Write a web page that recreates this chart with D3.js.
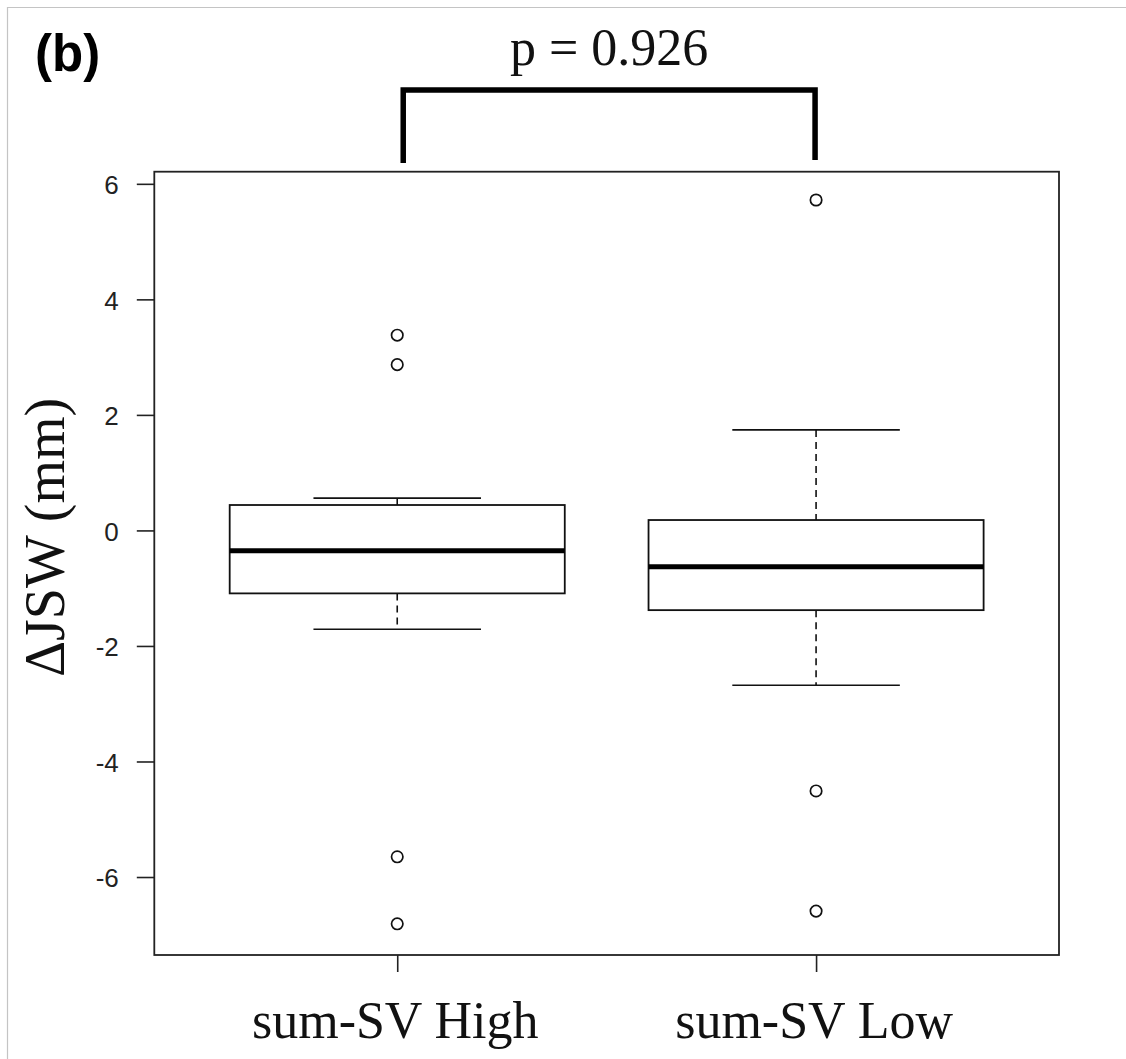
<!DOCTYPE html>
<html>
<head>
<meta charset="utf-8">
<script src="https://cdn.jsdelivr.net/npm/d3@7"></script>
<style>
  body { margin: 0; background: #fff; }
</style>
</head>
<body>
<div id="canvas"></div>
<script>
"use strict";

/* Data: box statistics */
let groups = ["sum-SV High", "sum-SV Low"];
let lowerWhisker = [-1.71, -2.68];
let q1 = [-1.09, -1.38];
let median = [-0.35, -0.63];
let q3 = [0.44, 0.18];
let upperWhisker = [0.56, 1.74];
let outliers = [
  [3.38, 2.87, -5.65, -6.81],
  [5.72, -4.51, -6.59]
];
let yTicks = [-6, -4, -2, 0, 2, 4, 6];
let pLabel = "p = 0.926";

/* Drawing config */
let svgWidth = 1126;
let svgHeight = 1059;
let plotLeft = 154.3, plotRight = 1059, plotTop = 171.7, plotBottom = 955;

let svg = d3.select("#canvas")
  .append("svg")
  .attr("width", svgWidth)
  .attr("height", svgHeight);

// light grey outer frame (only top and left visible)
svg.append("path")
  .attr("d", `M7.5,${svgHeight} V7.5 H${svgWidth}`)
  .attr("fill", "none")
  .attr("stroke", "#c4c4c4")
  .attr("stroke-width", 1.2);

/* Scales */
let xScale = d3.scaleLinear()
  .domain([0.42, 2.58])
  .range([plotLeft, plotRight]);

let yScale = d3.scaleLinear()
  .domain([-7.35, 6.21])
  .range([plotBottom, plotTop]);

let boxHalf = 0.4, capHalf = 0.2;

let boxData = groups.map((g, i) => ({
  name: g, pos: i + 1,
  lo: lowerWhisker[i], q1: q1[i], med: median[i], q3: q3[i], hi: upperWhisker[i],
  out: outliers[i]
}));

/* Axes */
let yAxis = d3.axisLeft(yScale)
  .tickValues(yTicks)
  .tickSize(17.5)
  .tickPadding(18)
  .tickFormat(d => String(d)); // plain hyphen minus like R

let gy = svg.append("g")
  .attr("transform", `translate(${plotLeft},0)`)
  .call(yAxis);
gy.select(".domain").remove();
gy.selectAll(".tick line").attr("stroke", "#222").attr("stroke-width", 1.6);
gy.selectAll(".tick text")
  .attr("fill", "#222")
  .attr("font-family", "Liberation Sans, Arial, sans-serif")
  .attr("font-size", 26)
  .attr("dy", "0.38em");

let xAxis = d3.axisBottom(xScale)
  .tickValues([1, 2])
  .tickSize(17)
  .tickFormat("");

let gx = svg.append("g")
  .attr("transform", `translate(0,${plotBottom})`)
  .call(xAxis);
gx.select(".domain").remove();
gx.selectAll(".tick line").attr("stroke", "#222").attr("stroke-width", 1.6);

svg.selectAll(".xlabel")
  .data(boxData)
  .join("text")
  .attr("class", "xlabel")
  .attr("x", d => xScale(d.pos) - 2)
  .attr("y", 1038)
  .attr("text-anchor", "middle")
  .attr("font-family", "Liberation Serif, Times New Roman, serif")
  .attr("font-size", 52)
  .attr("fill", "#111")
  .text(d => d.name);

/* Boxes */
let box = svg.selectAll(".box")
  .data(boxData)
  .join("g")
  .attr("class", "box");

// whiskers (dashed)
box.append("line")
  .attr("x1", d => xScale(d.pos)).attr("x2", d => xScale(d.pos))
  .attr("y1", d => yScale(d.hi)).attr("y2", d => yScale(d.q3))
  .attr("stroke", "#111").attr("stroke-width", 1.6)
  .attr("stroke-dasharray", "7,5");
box.append("line")
  .attr("x1", d => xScale(d.pos)).attr("x2", d => xScale(d.pos))
  .attr("y1", d => yScale(d.q1)).attr("y2", d => yScale(d.lo))
  .attr("stroke", "#111").attr("stroke-width", 1.6)
  .attr("stroke-dasharray", "7,5");

// staples
["hi", "lo"].forEach(k => {
  box.append("line")
    .attr("x1", d => xScale(d.pos - capHalf)).attr("x2", d => xScale(d.pos + capHalf))
    .attr("y1", d => yScale(d[k])).attr("y2", d => yScale(d[k]))
    .attr("stroke", "#111").attr("stroke-width", 1.6);
});

box.append("rect")
  .attr("x", d => xScale(d.pos - boxHalf))
  .attr("width", d => xScale(d.pos + boxHalf) - xScale(d.pos - boxHalf))
  .attr("y", d => yScale(d.q3))
  .attr("height", d => yScale(d.q1) - yScale(d.q3))
  .attr("fill", "none")
  .attr("stroke", "#111")
  .attr("stroke-width", 1.8);

box.append("line")
  .attr("x1", d => xScale(d.pos - boxHalf)).attr("x2", d => xScale(d.pos + boxHalf))
  .attr("y1", d => yScale(d.med)).attr("y2", d => yScale(d.med))
  .attr("stroke", "#000").attr("stroke-width", 5);

// outlier points
box.selectAll("circle")
  .data(d => d.out.map(v => ({ pos: d.pos, v: v })))
  .join("circle")
  .attr("cx", d => xScale(d.pos))
  .attr("cy", d => yScale(d.v))
  .attr("r", 5.7)
  .attr("fill", "none")
  .attr("stroke", "#111")
  .attr("stroke-width", 1.7);

/* Plot frame */
svg.append("rect")
  .attr("x", plotLeft)
  .attr("y", plotTop)
  .attr("width", plotRight - plotLeft)
  .attr("height", plotBottom - plotTop)
  .attr("fill", "none")
  .attr("stroke", "#222")
  .attr("stroke-width", 1.8);

/* Y axis title */
svg.append("text")
  .attr("transform", `translate(64,${(plotTop + plotBottom) / 2 - 26}) rotate(-90)`)
  .attr("text-anchor", "middle")
  .attr("font-family", "Liberation Serif, Times New Roman, serif")
  .attr("font-size", 56)
  .attr("fill", "#111")
  .text("\u0394JSW (mm)");

/* Significance bracket */
let bx1 = xScale(1) + 6, bx2 = xScale(2) - 1;
svg.append("path")
  .attr("d", `M${bx1},163 V90 H${bx2} V160`)
  .attr("fill", "none")
  .attr("stroke", "#000")
  .attr("stroke-width", 5.5);

svg.append("text")
  .attr("x", (bx1 + bx2) / 2)
  .attr("y", 65)
  .attr("text-anchor", "middle")
  .attr("font-family", "Liberation Serif, Times New Roman, serif")
  .attr("font-size", 52)
  .attr("fill", "#111")
  .text(pLabel);

/* Panel label */
svg.append("text")
  .attr("x", 35)
  .attr("y", 71)
  .attr("font-family", "Liberation Sans, Arial, sans-serif")
  .attr("font-weight", "bold")
  .attr("font-size", 51)
  .attr("fill", "#000")
  .text("(b)");
</script>
</body>
</html>
